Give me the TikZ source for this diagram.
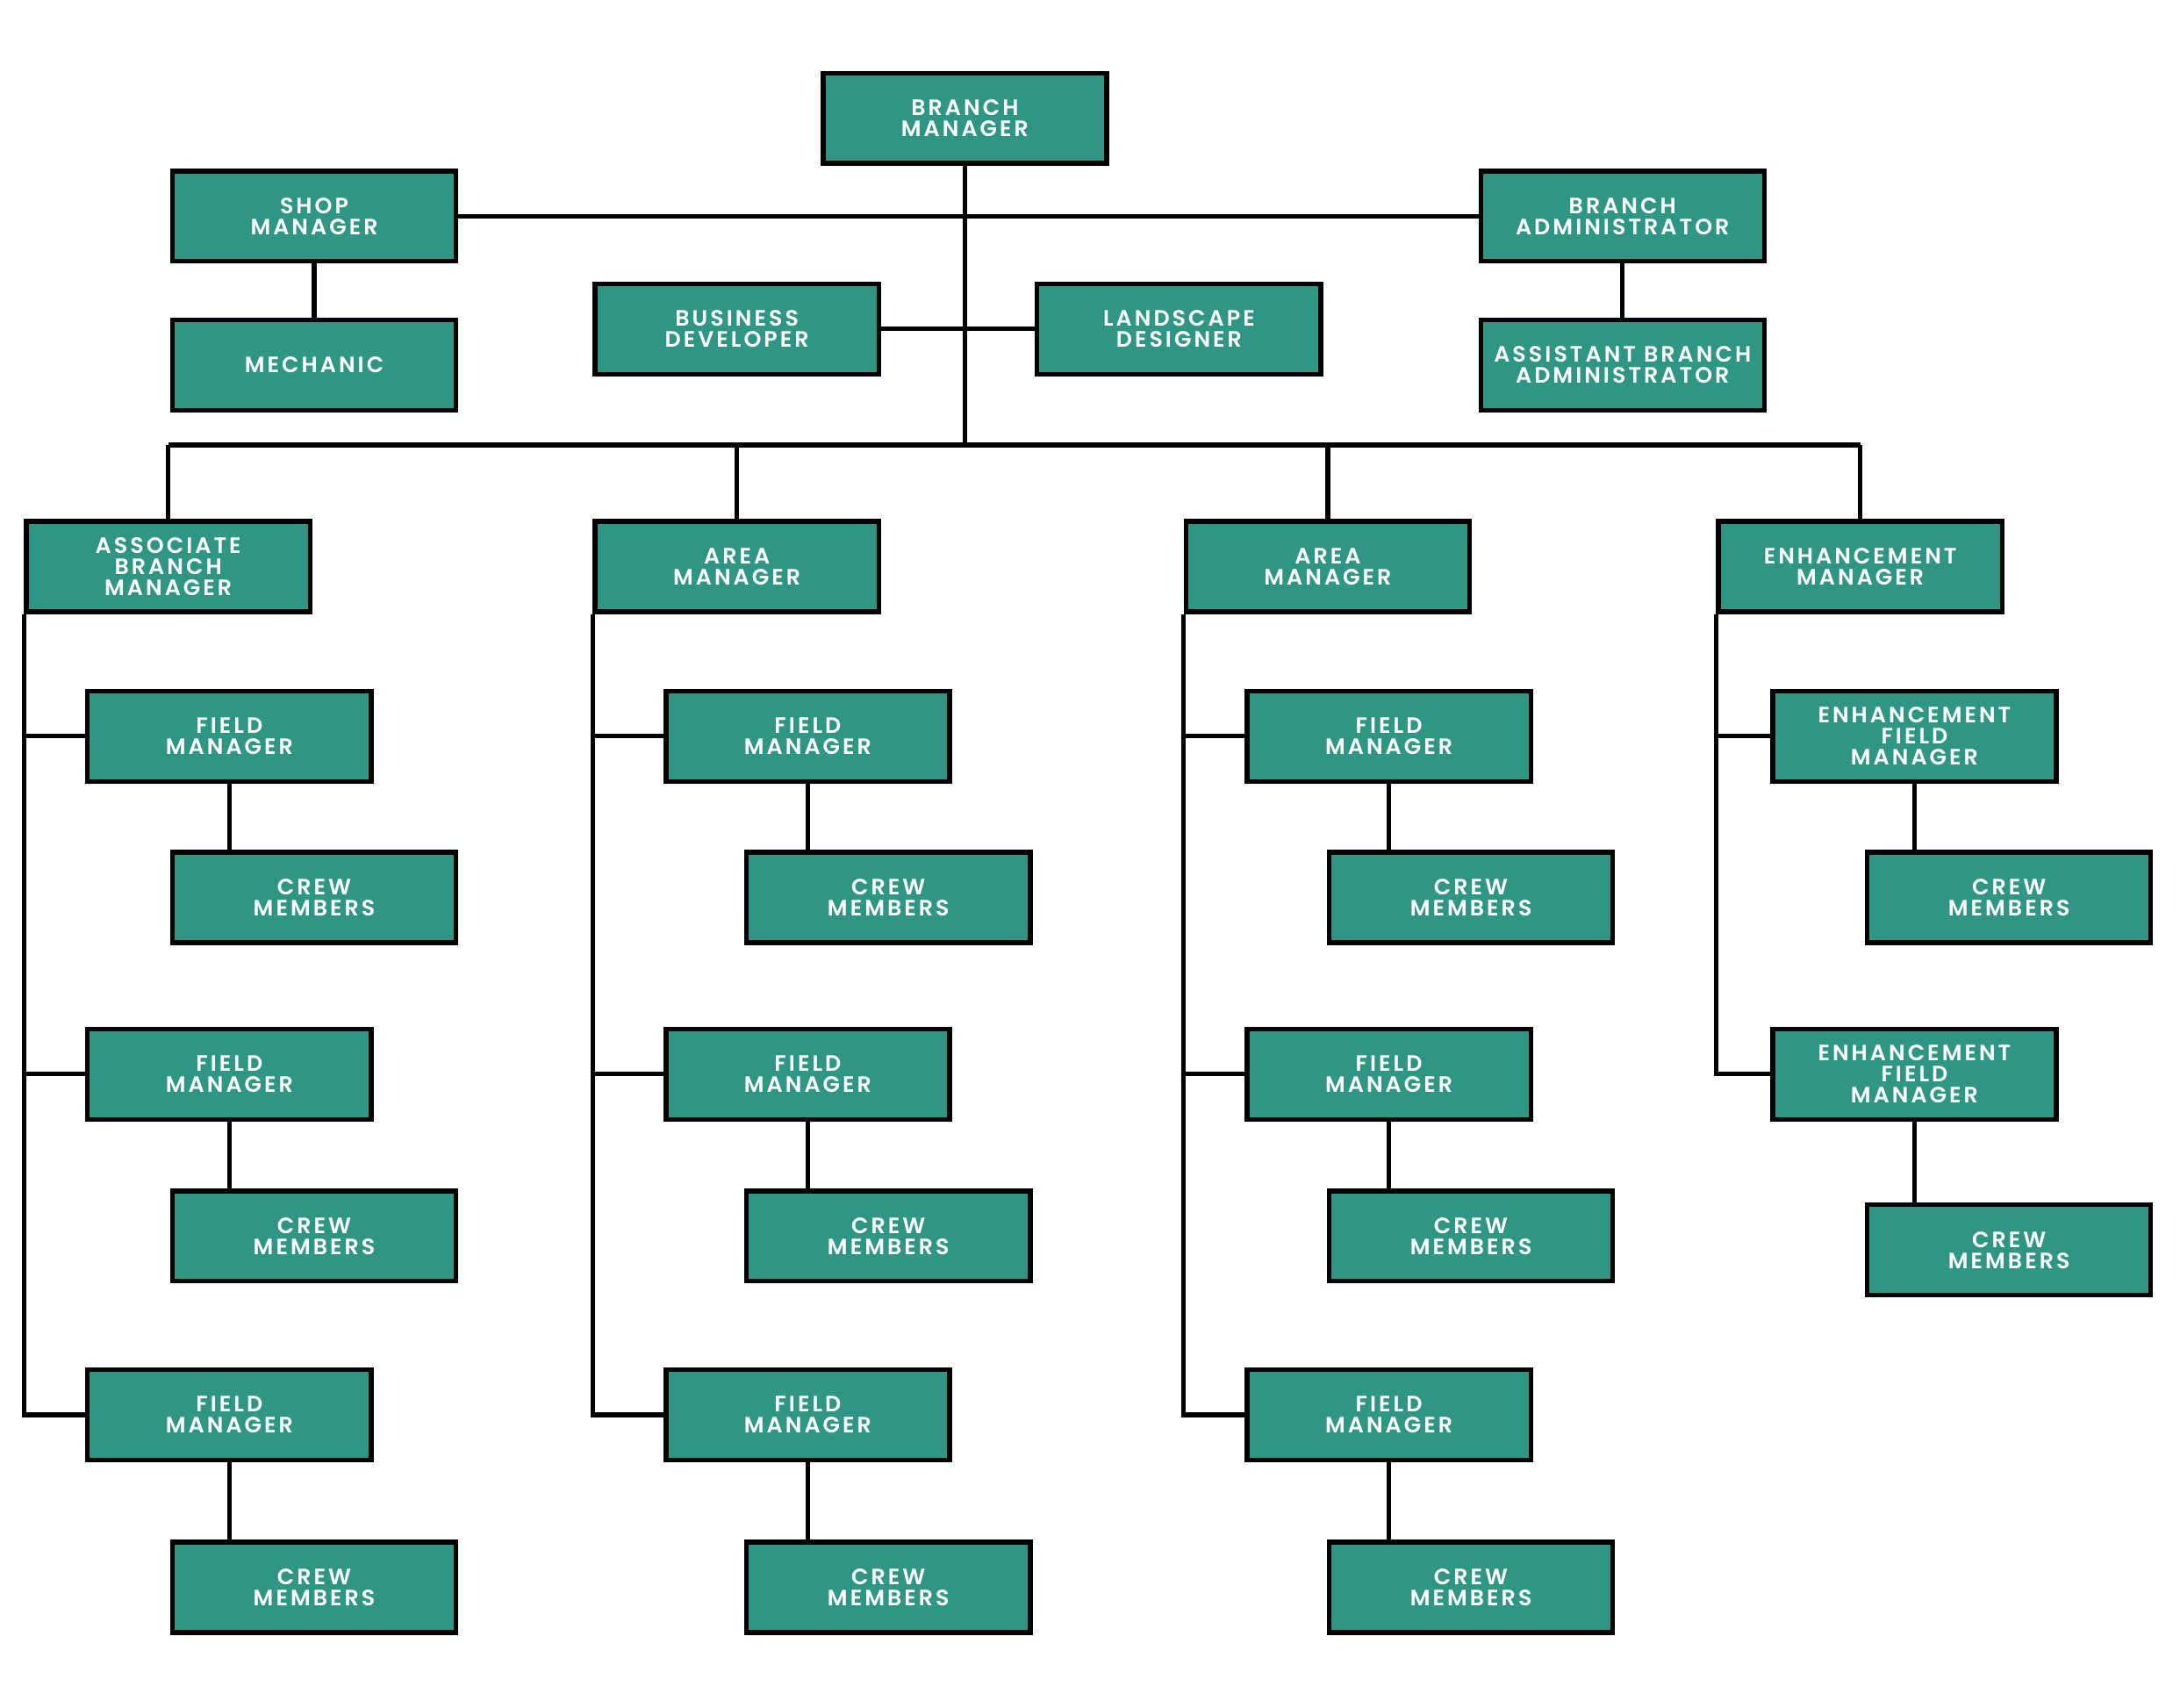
\documentclass[tikz,border=0pt]{standalone}
\usepackage{fontspec}
\usepackage{xcolor}
\usepackage{tikz}
\newfontfamily\postfont{Poppins SemiBold}[LetterSpace=12]
\definecolor{teal}{HTML}{2F9683}
\tikzstyle{post} = [draw=black, line width=1.9pt, fill=teal, text=white,
  minimum width=4.08cm, minimum height=1.3cm, align=center, inner sep=0pt,
  font=\postfont\fontsize{9.1}{8.6}\selectfont]
\tikzstyle{link} = [line width=1.9pt]

\begin{document}
\begin{tikzpicture}[x=0.02cm, y=-0.02cm]
    \useasboundingbox (0,0) rectangle (1568,1228);
    % top level
    \node[post] (bm) at (694,85) {BRANCH\\MANAGER};
    \node[post] (sm) at (226,155.5) {SHOP\\MANAGER};
    \node[post] (ba) at (1167,155.5) {BRANCH\\ADMINISTRATOR};
    \node[post] (mech) at (226,262.5) {MECHANIC};
    \node[post] (bd) at (530,236.5) {BUSINESS\\DEVELOPER};
    \node[post] (ld) at (848,236.5) {LANDSCAPE\\DESIGNER};
    \node[post] (aba) at (1167,262.5) {ASSISTANT BRANCH\\ADMINISTRATOR};
    % second level
    \node[post] (abm) at (121,407.5) {ASSOCIATE\\BRANCH\\MANAGER};
    \node[post] (am1) at (530,407.5) {AREA\\MANAGER};
    \node[post] (am2) at (955,407.5) {AREA\\MANAGER};
    \node[post] (em) at (1338,407.5) {ENHANCEMENT\\MANAGER};
    % associate branch manager column
    \node[post] (fm11) at (165,529.5) {FIELD\\MANAGER};
    \node[post] (cm11) at (226,645.5) {CREW\\MEMBERS};
    \node[post] (fm12) at (165,772.5) {FIELD\\MANAGER};
    \node[post] (cm12) at (226,889) {CREW\\MEMBERS};
    \node[post] (fm13) at (165,1017.5) {FIELD\\MANAGER};
    \node[post] (cm13) at (226,1141.5) {CREW\\MEMBERS};
    % first area manager column
    \node[post] (fm21) at (581,529.5) {FIELD\\MANAGER};
    \node[post] (cm21) at (639,645.5) {CREW\\MEMBERS};
    \node[post] (fm22) at (581,772.5) {FIELD\\MANAGER};
    \node[post] (cm22) at (639,889) {CREW\\MEMBERS};
    \node[post] (fm23) at (581,1017.5) {FIELD\\MANAGER};
    \node[post] (cm23) at (639,1141.5) {CREW\\MEMBERS};
    % second area manager column
    \node[post] (fm31) at (999,529.5) {FIELD\\MANAGER};
    \node[post] (cm31) at (1058,645.5) {CREW\\MEMBERS};
    \node[post] (fm32) at (999,772.5) {FIELD\\MANAGER};
    \node[post] (cm32) at (1058,889) {CREW\\MEMBERS};
    \node[post] (fm33) at (999,1017.5) {FIELD\\MANAGER};
    \node[post] (cm33) at (1058,1141.5) {CREW\\MEMBERS};
    % enhancement column
    \node[post] (efm1) at (1377,529.5) {ENHANCEMENT\\FIELD\\MANAGER};
    \node[post] (cm41) at (1445,645.5) {CREW\\MEMBERS};
    \node[post] (efm2) at (1377,772.5) {ENHANCEMENT\\FIELD\\MANAGER};
    \node[post] (cm42) at (1445,899) {CREW\\MEMBERS};

    % connectors
    \coordinate (busL) at (121,320);
    \coordinate (busR) at (1338,320);
    \draw[link] (busL) -- (busR);
    \draw[link] (bm.south) -- (bm.south |- busL);
    \draw[link] (sm.east) -- (ba.west);
    \draw[link] (bd.east) -- (ld.west);
    \draw[link] (sm.south) -- (mech.north);
    \draw[link] (ba.south) -- (aba.north);
    \draw[link] (abm.north) -- (abm.north |- busL);
    \draw[link] (am1.north) -- (am1.north |- busL);
    \draw[link] (am2.north) -- (am2.north |- busL);
    \draw[link] (em.north) -- (em.north |- busL);
    % spines
    \draw[link] (abm.south west) |- (fm13.west);
    \draw[link] (fm11.west) -- (fm11.west -| abm.west);
    \draw[link] (fm12.west) -- (fm12.west -| abm.west);
    \draw[link] (am1.south west) |- (fm23.west);
    \draw[link] (fm21.west) -- (fm21.west -| am1.west);
    \draw[link] (fm22.west) -- (fm22.west -| am1.west);
    \draw[link] (am2.south west) |- (fm33.west);
    \draw[link] (fm31.west) -- (fm31.west -| am2.west);
    \draw[link] (fm32.west) -- (fm32.west -| am2.west);
    \draw[link] (em.south west) |- (efm2.west);
    \draw[link] (efm1.west) -- (efm1.west -| em.west);
    % field managers to crews
    \draw[link] (fm11.south) -- (fm11.south |- cm11.north);
    \draw[link] (fm12.south) -- (fm12.south |- cm12.north);
    \draw[link] (fm13.south) -- (fm13.south |- cm13.north);
    \draw[link] (fm21.south) -- (fm21.south |- cm21.north);
    \draw[link] (fm22.south) -- (fm22.south |- cm22.north);
    \draw[link] (fm23.south) -- (fm23.south |- cm23.north);
    \draw[link] (fm31.south) -- (fm31.south |- cm31.north);
    \draw[link] (fm32.south) -- (fm32.south |- cm32.north);
    \draw[link] (fm33.south) -- (fm33.south |- cm33.north);
    \draw[link] (efm1.south) -- (efm1.south |- cm41.north);
    \draw[link] (efm2.south) -- (efm2.south |- cm42.north);
\end{tikzpicture}
\end{document}
